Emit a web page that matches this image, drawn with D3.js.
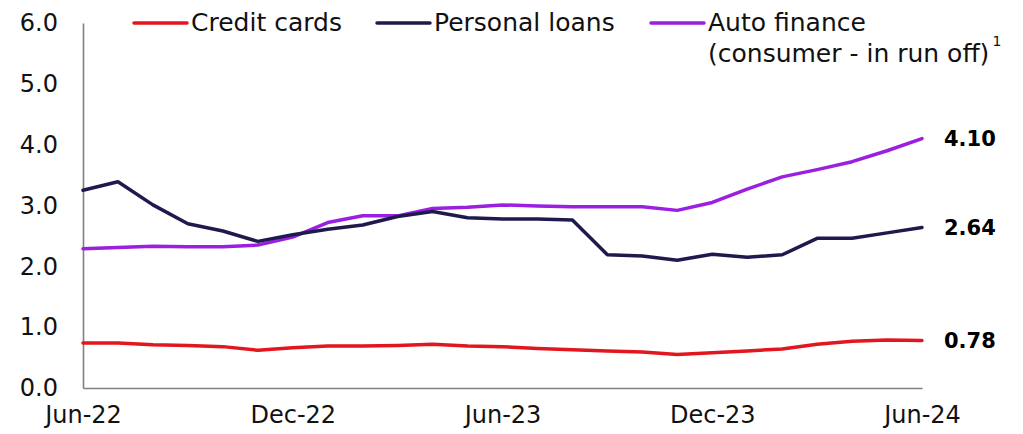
<!DOCTYPE html>
<html>
<head>
<meta charset="utf-8">
<script src="https://cdn.jsdelivr.net/npm/d3@7"></script>
<style>
  body { margin: 0; background: #fff; }
  svg { display: block; font-family: "DejaVu Sans", sans-serif; }
</style>
</head>
<body>
<script>
"use strict";
(function(){
    // monthly, Jun-22 .. Jun-24
    const months = ["Jun-22","Jul-22","Aug-22","Sep-22","Oct-22","Nov-22","Dec-22","Jan-23","Feb-23","Mar-23","Apr-23","May-23",
        "Jun-23","Jul-23","Aug-23","Sep-23","Oct-23","Nov-23","Dec-23","Jan-24","Feb-24","Mar-24","Apr-24","May-24","Jun-24"]
    const tickLabels = ["Jun-22","Dec-22","Jun-23","Dec-23","Jun-24"]

    const creditCards = [0.74,0.74,0.71,0.70,0.68,0.62,0.66,0.69,0.69,0.70,0.72,0.69,0.68,0.65,0.63,0.61,0.59,0.55,0.58,0.61,0.64,0.72,0.77,0.79,0.78]
    const personalLoans = [3.25,3.39,3.01,2.70,2.58,2.41,2.52,2.61,2.68,2.82,2.90,2.80,2.78,2.78,2.76,2.19,2.17,2.10,2.20,2.15,2.19,2.46,2.46,2.55,2.64]
    const autoFinance = [2.29,2.31,2.33,2.32,2.32,2.35,2.48,2.72,2.83,2.83,2.95,2.97,3.01,2.99,2.98,2.98,2.98,2.92,3.05,3.27,3.47,3.59,3.72,3.90,4.10]

    const seriesNames = ["Credit cards","Personal loans","Auto finance"]
    const endLabels = ["0.78","2.64","4.10"]

    const colors = {
        "Credit cards": "#e2161e",
        "Personal loans": "#1f1a4e",
        "Auto finance": "#9b1fe0"
    }

    const measurements = { width: 1023, height: 434 }

    const svg = d3.select("body").append("svg")
        .attr("width", measurements.width)
        .attr("height", measurements.height)

    const x = d3.scaleLinear().domain([0, months.length - 1]).range([83, 922])
    const y = d3.scaleLinear().domain([0, 6]).range([388, 23])

    // axes
    const yAxis = d3.axisLeft(y)
        .tickValues([0,1,2,3,4,5,6])
        .tickFormat(d3.format(".1f"))
        .tickSize(0)
        .tickPadding(25)
    const gy = svg.append("g").attr("transform", "translate(83,0)").call(yAxis)

    const xAxis = d3.axisBottom(x)
        .tickValues(tickLabels.map(t => months.indexOf(t)))
        .tickFormat(i => months[i])
        .tickSize(0)
        .tickPadding(18)
    const gx = svg.append("g").attr("transform", "translate(0,388)").call(xAxis)

    ;[gx, gy].forEach(g => {
        g.select(".domain").attr("stroke", "#808080").attr("stroke-width", 1.6)
        g.selectAll("text").attr("fill", "#111").style("font-size", "24px")
            .style("font-family", "'DejaVu Sans', sans-serif")
    })

    // lines: red, purple, then navy on top
    const line = d3.line().x((d, i) => x(i)).y(d => y(d))
    const allSeries = [creditCards, personalLoans, autoFinance]
    const drawOrder = [0, 2, 1]
    drawOrder.forEach(k => {
        svg.append("path")
            .datum(allSeries[k])
            .attr("fill", "none")
            .attr("stroke", colors[seriesNames[k]])
            .attr("stroke-width", 3.5)
            .attr("stroke-linejoin", "round")
            .attr("stroke-linecap", "round")
            .attr("d", line)
    })

    // end labels
    allSeries.forEach((s, k) => {
        svg.append("text")
            .attr("x", 944)
            .attr("y", y(s[s.length - 1]))
            .attr("dy", "0.36em")
            .attr("fill", "#000")
            .style("font-size", "21px")
            .style("font-weight", "bold")
            .text(endLabels[k])
    })

    // legend
    const legendX = [134, 377, 651]
    seriesNames.forEach((n, k) => {
        svg.append("line")
            .attr("x1", legendX[k]).attr("x2", legendX[k] + 53)
            .attr("y1", 23).attr("y2", 23)
            .attr("stroke", colors[n])
            .attr("stroke-width", 3.5)
            .attr("stroke-linecap", "round")
        svg.append("text")
            .attr("x", legendX[k] + 57)
            .attr("y", 31)
            .attr("fill", "#111")
            .style("font-size", "25px")
            .text(n)
    })
    const sub = svg.append("text")
        .attr("x", 708)
        .attr("y", 62)
        .attr("fill", "#111")
        .style("font-size", "25px")
    sub.append("tspan").text("(consumer - in run off)")
    sub.append("tspan")
        .attr("dx", 3)
        .attr("dy", -16)
        .style("font-size", "14px")
        .text("1")
})()
</script>
</body>
</html>
